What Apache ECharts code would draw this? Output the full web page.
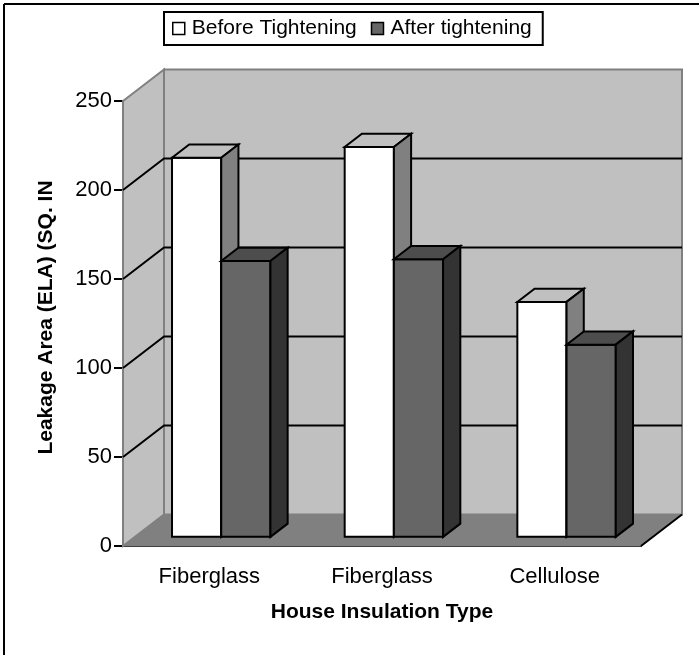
<!DOCTYPE html>
<html>
<head>
<meta charset="utf-8">
<script src="https://cdn.jsdelivr.net/npm/echarts@6/dist/echarts.min.js"></script>
<style>
  html, body { margin: 0; padding: 0; background: #fff; }
  #chart { width: 699px; height: 655px; }
</style>
</head>
<body>
<div id="chart"></div>
<script>
const categories = ['Fiberglass', 'Fiberglass', 'Cellulose'];
const beforeValues = [213, 219, 132];
const afterValues = [155, 156, 108];
const gridValues = [50, 100, 150, 200];

// fake 3d: how far the back wall sits from the front plane, in px
const DEPTH_X = 41;
const DEPTH_Y = -31.5;
const BAR_FRONT = 0.29;
const BAR_BACK = 0.71;
const BAR_FRAC = 0.285;
const FONT = '"Liberation Sans", Arial, sans-serif';

const palette = [
  { front: '#ffffff', top: '#c0c0c0', side: '#808080' },
  { front: '#666666', top: '#4d4d4d', side: '#333333' },
];

function poly(points, fill, stroke, lw) {
  return {
    type: 'polygon',
    shape: { points: points },
    style: { fill: fill, stroke: stroke, lineWidth: lw },
  };
}

function renderWalls(params, api) {
  const cs = params.coordSys;
  const x0 = cs.x;
  const x1 = cs.x + cs.width;
  const yT = cs.y;
  const yB = cs.y + cs.height;
  return {
    type: 'group',
    children: [
      // back wall
      {
        type: 'rect',
        shape: { x: x0 + DEPTH_X, y: yT + DEPTH_Y, width: cs.width, height: cs.height },
        style: { fill: '#c0c0c0', stroke: '#808080', lineWidth: 2 },
      },
      // left wall
      poly([[x0, yT], [x0 + DEPTH_X, yT + DEPTH_Y], [x0 + DEPTH_X, yB + DEPTH_Y], [x0, yB]],
        '#c0c0c0', '#808080', 2),
      // floor
      poly([[x0, yB], [x1, yB], [x1 + DEPTH_X, yB + DEPTH_Y], [x0 + DEPTH_X, yB + DEPTH_Y]],
        '#808080', '#808080', 1),
      {
        type: 'line',
        shape: { x1: x1, y1: yB, x2: x1 + DEPTH_X, y2: yB + DEPTH_Y },
        style: { stroke: '#000', lineWidth: 2 },
      },
    ],
  };
}

function renderGridLine(params, api) {
  const cs = params.coordSys;
  const y = api.coord([0, api.value(1)])[1];
  const x0 = cs.x;
  const x1 = cs.x + cs.width;
  return {
    type: 'polyline',
    shape: { points: [[x0, y], [x0 + DEPTH_X, y + DEPTH_Y], [x1 + DEPTH_X, y + DEPTH_Y]] },
    style: { fill: null, stroke: '#000', lineWidth: 2 },
  };
}

function renderBar(side) {
  return function (params, api) {
    const i = api.value(0);
    const top = api.coord([i, api.value(1)]);
    const base = api.coord([i, 0]);
    const w = api.size([1, 0])[0] * BAR_FRAC;
    const ox = BAR_FRONT * DEPTH_X;
    const oy = BAR_FRONT * DEPTH_Y;
    const bx = (BAR_BACK - BAR_FRONT) * DEPTH_X;
    const by = (BAR_BACK - BAR_FRONT) * DEPTH_Y;
    const xl = top[0] + (side === 0 ? -w : 0) + ox;
    const xr = xl + w;
    const yt = top[1] + oy;
    const yb = base[1] + oy;
    const c = palette[side];
    return {
      type: 'group',
      children: [
        {
          type: 'rect',
          shape: { x: xl, y: yt, width: w, height: yb - yt },
          style: { fill: c.front, stroke: '#000', lineWidth: 2 },
        },
        poly([[xl, yt], [xr, yt], [xr + bx, yt + by], [xl + bx, yt + by]], c.top, '#000', 2),
        poly([[xr, yt], [xr + bx, yt + by], [xr + bx, yb + by], [xr, yb]], c.side, '#000', 2),
      ],
    };
  };
}

const chart = echarts.init(document.getElementById('chart'));

chart.setOption({
  animation: false,
  textStyle: { fontFamily: FONT, color: '#000' },
  graphic: [
    { type: 'line', shape: { x1: 4, y1: 4, x2: 699, y2: 4 }, style: { stroke: '#000', lineWidth: 2 } },
    { type: 'line', shape: { x1: 4, y1: 4, x2: 4, y2: 655 }, style: { stroke: '#000', lineWidth: 2 } },
  ],
  legend: {
    left: 164,
    top: 12,
    padding: [6, 11, 6, 8],
    borderColor: '#000',
    borderWidth: 2,
    icon: 'rect',
    itemWidth: 12,
    itemHeight: 12,
    itemGap: 14,
    textStyle: { fontSize: 21, fontFamily: FONT, color: '#000', padding: [0, 0, 0, 2] },
    data: [
      { name: 'Before Tightening', itemStyle: { color: '#ffffff', borderColor: '#000', borderWidth: 1.5 } },
      { name: 'After tightening', itemStyle: { color: '#666666', borderColor: '#000', borderWidth: 1.5 } },
    ],
  },
  grid: {
    left: 123,
    right: 58,
    top: 101,
    bottom: 109,
  },
  xAxis: {
    type: 'category',
    data: categories,
    name: 'House Insulation Type',
    nameLocation: 'middle',
    nameGap: 56,
    nameTextStyle: { fontSize: 21, fontWeight: 'bold', fontFamily: FONT, color: '#000' },
    axisLine: { lineStyle: { color: '#000', width: 2 } },
    axisTick: { length: 10, lineStyle: { color: '#000', width: 2 } },
    axisLabel: { fontSize: 22, margin: 20, color: '#000' },
    splitLine: { show: false },
  },
  yAxis: {
    type: 'value',
    min: 0,
    max: 250,
    interval: 50,
    name: 'Leakage Area (ELA) (SQ. IN',
    nameLocation: 'middle',
    nameGap: 66,
    nameRotate: 90,
    nameTextStyle: { fontSize: 21, fontWeight: 'bold', fontFamily: FONT, color: '#000', padding: [0, 0, 0, 12] },
    axisLine: { show: true, lineStyle: { color: '#000', width: 2 } },
    axisTick: { show: true, length: 9, lineStyle: { color: '#000', width: 2 } },
    axisLabel: { fontSize: 22, margin: 11, color: '#000' },
    splitLine: { show: false },
  },
  series: [
    {
      type: 'custom',
      name: 'walls',
      clip: false,
      silent: true,
      z: 1,
      renderItem: renderWalls,
      data: [[0, 0]],
    },
    {
      type: 'custom',
      name: 'gridlines',
      clip: false,
      silent: true,
      z: 2,
      renderItem: renderGridLine,
      data: gridValues.map(function (v) { return [0, v]; }),
    },
    {
      type: 'custom',
      name: 'Before Tightening',
      clip: false,
      z: 3,
      itemStyle: { color: '#ffffff', borderColor: '#000' },
      renderItem: renderBar(0),
      data: beforeValues.map(function (v, i) { return [i, v]; }),
    },
    {
      type: 'custom',
      name: 'After tightening',
      clip: false,
      z: 3,
      itemStyle: { color: '#666666', borderColor: '#000' },
      renderItem: renderBar(1),
      data: afterValues.map(function (v, i) { return [i, v]; }),
    },
  ],
});
</script>
</body>
</html>
